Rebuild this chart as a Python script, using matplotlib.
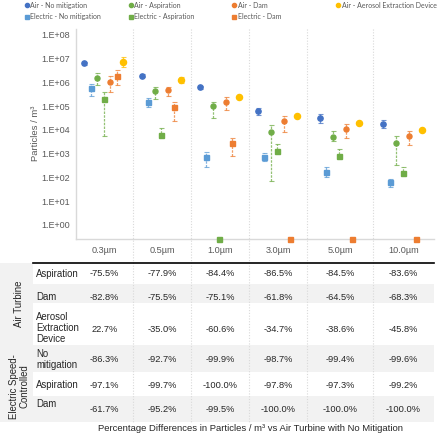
import numpy as np
import matplotlib
matplotlib.use('Agg')
import matplotlib.pyplot as plt
from matplotlib.ticker import FixedLocator, FuncFormatter, NullLocator

plt.rcParams['font.family'] = ['Liberation Sans', 'DejaVu Sans']

sizes = ['0.3µm', '0.5µm', '1.0µm', '3.0µm', '5.0µm', '10.0µm']

air_nomit    = [6.4e6, 1.9e6, 6.2e5, 6.1e4, 3.1e4, 1.8e4]
air_nomit_lo = [5.5e6, 1.7e6, 5.2e5, 4.3e4, 2.0e4, 1.2e4]
air_nomit_hi = [7.4e6, 2.2e6, 7.3e5, 8.0e4, 4.6e4, 2.6e4]

elec_nomit    = [5.6e5, 1.45e5, 720, 740, 167, 62]
elec_nomit_lo = [2.8e5, 8.9e4, 280, 500, 100, 39]
elec_nomit_hi = [8.9e5, 2.1e5, 1130, 1100, 265, 87]

air_asp    = [1.6e6, 4.2e5, 9.8e4, 7.9e3, 4.9e3, 2.9e3]
air_asp_lo = [7.8e5, 2.0e5, 3.2e4, 72, 3.5e3, 340]
air_asp_hi = [2.5e6, 6.6e5, 1.55e5, 1.6e4, 9.2e3, 5.5e3]

elec_asp    = [1.95e5, 6.3e3, 0, 1.3e3, 790, 147]
elec_asp_lo = [5.7e3, 5.0e3, 0, 1.1e3, 650, 120]
elec_asp_hi = [4.0e5, 1.2e4, 0, 2.5e3, 1.5e3, 280]

air_dam    = [1.07e6, 4.7e5, 1.55e5, 2.3e4, 1.1e4, 5.7e3]
air_dam_lo = [4.1e5, 2.8e5, 6.9e4, 8.1e3, 4.4e3, 2.4e3]
air_dam_hi = [1.9e6, 6.6e5, 2.5e5, 3.7e4, 1.7e4, 8.9e3]

elec_dam    = [1.87e6, 9.5e4, 2.8e3, 0, 0, 0]
elec_dam_lo = [7.6e5, 2.4e4, 790, 0, 0, 0]
elec_dam_hi = [3.2e6, 1.5e5, 4.5e3, 0, 0, 0]

aerosol    = [7.5e6, 1.3e6, 2.5e5, 3.7e4, 1.9e4, 9.8e3]
aerosol_lo = [4.4e6, 9.2e5, 2.5e5, 3.7e4, 1.9e4, 9.8e3]
aerosol_hi = [1.15e7, 1.7e6, 2.5e5, 3.7e4, 1.9e4, 9.8e3]

# table: percentage differences vs air turbine with no mitigation
group_labels = ['Air Turbine', 'Electric Speed-\nControlled']
row_labels = ['Aspiration', 'Dam', 'Aerosol\nExtraction\nDevice',
              'No\nmitigation', 'Aspiration', 'Dam']
pct = [
    ['-75.5%', '-77.9%', '-84.4%', '-86.5%', '-84.5%', '-83.6%'],
    ['-82.8%', '-75.5%', '-75.1%', '-61.8%', '-64.5%', '-68.3%'],
    ['22.7%', '-35.0%', '-60.6%', '-34.7%', '-38.6%', '-45.8%'],
    ['-86.3%', '-92.7%', '-99.9%', '-98.7%', '-99.4%', '-99.6%'],
    ['-97.1%', '-99.7%', '-100.0%', '-97.8%', '-97.3%', '-99.2%'],
    ['-61.7%', '-95.2%', '-99.5%', '-100.0%', '-100.0%', '-100.0%'],
]

# series in drawing order (left to right inside each size group)
series = [
    ('Air - No mitigation', air_nomit, air_nomit_lo, air_nomit_hi, '#4472C4', 'o', 3.8),
    ('Electric - No mitigation', elec_nomit, elec_nomit_lo, elec_nomit_hi, '#5B9BD5', 's', 3.6),
    ('Air - Aspiration', air_asp, air_asp_lo, air_asp_hi, '#70AD47', 'o', 3.6),
    ('Electric - Aspiration', elec_asp, elec_asp_lo, elec_asp_hi, '#70AD47', 's', 3.6),
    ('Air - Dam', air_dam, air_dam_lo, air_dam_hi, '#ED7D31', 'o', 3.6),
    ('Electric - Dam', elec_dam, elec_dam_lo, elec_dam_hi, '#ED7D31', 's', 3.6),
    ('Air - Aerosol Extraction Device', aerosol, aerosol_lo, aerosol_hi, '#FFC000', 'o', 4.4),
]
legend_order = [0, 2, 4, 6, 1, 3, 5]

# ---- layout (figure pixels) ----
W, H = 440, 434
col_edges = [76, 133, 191, 249, 307, 373, 434]
row_edges = [263, 284.3, 302.7, 345, 372.3, 395.7, 421.7]
row_text_y = [274, 297, 329, 359.5, 385.5, 409]
label_text_y = [274, 297, 328, 359.5, 385.5, 404]
chart_top, chart_bottom = 29, 239
ymin, ymax = 10 ** -0.6, 10 ** 8.25
grid_c = '#D9D9D9'
text_c = '#595959'

fig = plt.figure(figsize=(W / 100, H / 100), dpi=100)

lay = fig.add_axes([0, 0, 1, 1], zorder=0)
lay.set_xlim(0, W)
lay.set_ylim(H, 0)
lay.axis('off')

ax = fig.add_axes([col_edges[0] / W, (H - chart_bottom) / H,
                   (col_edges[-1] - col_edges[0]) / W,
                   (chart_bottom - chart_top) / H], zorder=2)
ax.patch.set_alpha(0)

centers = [(a + b) / 2 for a, b in zip(col_edges[:-1], col_edges[1:])]
centers = np.array(centers) - 1
step = 6.5

for i, (name, v, lo, hi, c, m, ms) in enumerate(series):
    v = np.array(v, float)
    lo = np.array(lo, float)
    hi = np.array(hi, float)
    x = centers + (i - 3) * step
    has = v > 0
    y = np.where(has, v, ymin)
    err = np.vstack([np.where(has, v - lo, 0), np.where(has, hi - v, 0)])
    eb = ax.errorbar(x[has], y[has], yerr=err[:, has], fmt='none', ecolor=c,
                     elinewidth=0.9, capsize=1.8, capthick=0.8, alpha=0.75)
    eb[2][0].set_linestyle((0, (2, 1)))
    ax.plot(x, y, ls='none', marker=m, ms=ms, color=c, mec=c,
            clip_on=False, zorder=3)

ax.set_yscale('log')
ax.set_xlim(col_edges[0], col_edges[-1])
ax.set_ylim(ymin, ymax)
ax.yaxis.set_major_locator(FixedLocator([10.0 ** k for k in range(0, 9)]))
ax.yaxis.set_minor_locator(NullLocator())
ax.yaxis.set_major_formatter(FuncFormatter(lambda v, p: '1.E+%02d' % round(np.log10(v))))
ax.set_xticks(centers + 1)
ax.set_xticklabels(sizes)
ax.tick_params(axis='x', length=0, pad=5, labelsize=6.6, labelcolor=text_c)
ax.tick_params(axis='y', length=0, pad=4, labelsize=6.5, labelcolor=text_c)
for s in ['top', 'right']:
    ax.spines[s].set_visible(False)
for s in ['left', 'bottom']:
    ax.spines[s].set_color(grid_c)
    ax.spines[s].set_linewidth(1.0)

lay.text(35, 133, 'Particles / m³', rotation=90, ha='center', va='center',
         fontsize=6.8, color=text_c)

# ---- legend ----
for k, idx in enumerate(legend_order):
    name, _, _, _, c, m, _ = series[idx]
    row, col = (0, k) if k < 4 else (1, k - 4)
    lx = 27 + col * 103.7
    ly = 5.3 + row * 11.5
    lay.plot(lx, ly, marker=m, ms=3.0, color=c, ls='none')
    lay.text(lx + 3.5, ly, name, ha='left', va='center', fontsize=5.0,
             color=text_c, family=['Lato', 'DejaVu Sans'])

# ---- table ----
lay.add_patch(plt.Rectangle((0, row_edges[0]), 33, row_edges[-1] - row_edges[0],
                            color='#F2F2F2', lw=0, zorder=0))
for r in (1, 3, 5):
    lay.add_patch(plt.Rectangle((33, row_edges[r]), col_edges[-1] - 33,
                                row_edges[r + 1] - row_edges[r],
                                color='#F2F2F2', lw=0, zorder=0))
lay.plot([33, col_edges[-1]], [row_edges[0], row_edges[0]], color='black', lw=1.2)
lay.vlines(col_edges[1:-1], chart_top, row_edges[-1], colors=grid_c,
           linestyles=(0, (1, 1.5)), lw=0.8, zorder=1)

lay.text(19, (row_edges[0] + row_edges[3]) / 2, group_labels[0], rotation=90,
         ha='center', va='center', fontsize=6.9, color='#262626')
lay.text(19, (row_edges[3] + row_edges[6]) / 2 + 3, group_labels[1], rotation=90,
         ha='center', va='center', fontsize=6.9, color='#262626',
         multialignment='center', linespacing=1.0)

for r in range(6):
    lay.text(36, label_text_y[r], row_labels[r], ha='left', va='center',
             fontsize=6.9, color='#262626', linespacing=1.15)
    for j in range(6):
        lay.text((col_edges[j] + col_edges[j + 1]) / 2, row_text_y[r], pct[r][j],
                 ha='center', va='center', fontsize=6.7, color='#262626')

lay.text(250, 428.5,
         'Percentage Differences in Particles / m³ vs Air Turbine with No Mitigation',
         ha='center', va='center', fontsize=6.8, color='#262626')

fig.savefig('out.png', dpi=100)
